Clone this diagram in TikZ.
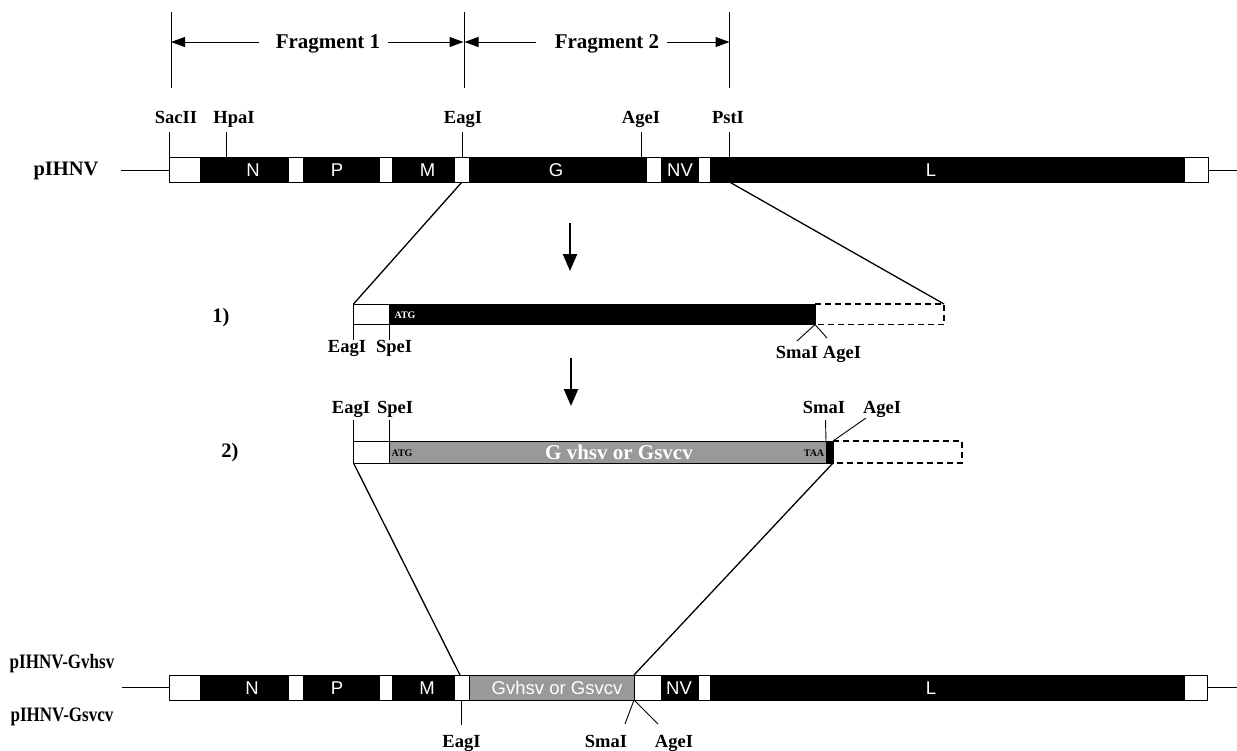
\documentclass[tikz,border=0pt]{standalone}
\usepackage{fontspec}
\setmainfont{Liberation Serif}
\newfontfamily\genefont{Liberation Sans}
\usetikzlibrary{arrows.meta}

\begin{document}
\begin{tikzpicture}[x=1pt,y=-1pt]
	\tikzstyle{site}=[anchor=base,inner sep=0pt,font=\fontsize{18.5}{20}\selectfont\bfseries]
	\tikzstyle{frag}=[anchor=base,inner sep=0pt,font=\fontsize{21}{24}\selectfont\bfseries]
	\tikzstyle{plasmid}=[anchor=base,inner sep=0pt,font=\fontsize{20.5}{24}\selectfont\bfseries]
	\tikzstyle{gene}=[anchor=base,inner sep=0pt,text=white,font=\genefont\fontsize{18.5}{20}\selectfont]
	\tikzstyle{codon}=[anchor=base,inner sep=0pt,font=\fontsize{10}{12}\selectfont\bfseries]
	\tikzstyle{tick}=[line width=0.9pt]
	\tikzstyle{link}=[line width=1.3pt]
	\tikzstyle{bar}=[line width=1pt]
	\tikzstyle{ghost}=[line width=1.2pt,dash pattern=on 6pt off 4pt]
	\tikzstyle{dim}=[line width=1pt,-{Triangle[length=14pt,width=10pt]}]
	\tikzstyle{down}=[line width=2.2pt,-{Triangle[length=17pt,width=14pt]}]
	\definecolor{insert}{gray}{0.6}

	\useasboundingbox[fill=white] (0,0) rectangle (1237,750);

	% fragments
	\foreach \x/\n in {171/f0,464/f1,729.5/f2} {
	  \coordinate (\n) at (\x,42);
	  \draw [tick] (\x,12) -- (\x,88);
	}
	\node [frag] (frag1) at (328,48) {Fragment 1};
	\node [frag] (frag2) at (607,48) {Fragment 2};
	\draw [dim] ([xshift=-17pt]frag1.west |- f0) -- (f0);
	\draw [dim] ([xshift=8pt]frag1.east |- f1) -- ([xshift=-0.5pt]f1);
	\draw [dim] ([xshift=-19pt]frag2.west |- f1) -- ([xshift=0.5pt]f1);
	\draw [dim] ([xshift=8pt]frag2.east |- f2) -- (f2);

	% pIHNV
	\node [plasmid] (pihnv) at (66,175) {pIHNV};
	\foreach \a/\b/\c in {169/199.5/white,199.5/288.5/black,288.5/303/white,303/379.5/black,379.5/392/white,392/455/black,455/469/white,469/646.5/black,646.5/660.5/white,660.5/699/black,699/710/white,710/1185/black,1185/1208/white}
	  \fill [\c] (\a,157) rectangle (\b,182);
	\draw [bar] (169,157) rectangle (1208,182);
	\draw [tick] (121,170) -- (169,170);
	\draw [tick] (1208,170) -- (1237,170);
	\foreach \x/\t in {253/N,337/P,427.5/M,556/G,680/NV,931/L}
	  \node [gene] at (\x,176.5) {\t};
	\foreach \x/\lx/\n/\t in {169/176/sac/SacII,226.5/234/hpa/HpaI,462.5/463/eag/EagI,641/641/age/AgeI,729.5/728/pst/PstI} {
	  \node [site] (t_\n) at (\lx,123) {\t};
	  \coordinate (tb_\n) at (\x,157);
	  \draw [tick] (\x,132) -- (tb_\n);
	}
	\coordinate (top_eag) at (462,182);
	\coordinate (top_pst) at (729.5,182);

	\draw [down] (570,223) -- (570,271);

	% 1)
	\node [plasmid] (one) at (221,322) {1)};
	\draw [bar,fill=white] (353.5,304) rectangle (389,324.5);
	\draw [bar,fill=black] (389,304) rectangle (815,324.5);
	\draw [ghost] (815,304) -- (944,304) -- (944,324.5) -- (815,324.5);
	\node [codon,text=white] at (405,318.5) {ATG};
	\coordinate (c1_nw) at (353.5,304);
	\coordinate (c1_ne) at (944,304);
	\coordinate (c1_sma) at (815,324.5);
	\draw [tick] (c1_nw) -- (353.5,340);
	\draw [tick] (389,324.5) -- (389,340);
	\draw [tick] (c1_sma) -- (797,341);
	\draw [tick] (c1_sma) -- (827,338);
	\node [site] at (347,352.5) {EagI};
	\node [site] at (394,352.5) {SpeI};
	\node [site] at (797,358) {SmaI};
	\node [site] at (842,358) {AgeI};

	\draw [down] (571,358) -- (571,406);

	% 2)
	\node [plasmid] (two) at (230,457) {2)};
	\draw [bar,fill=white] (353.5,441) rectangle (389,463);
	\draw [bar,fill=insert] (389,441) rectangle (826,463);
	\draw [bar,fill=black] (826,441) rectangle (833,463);
	\draw [ghost] (833,441) -- (962,441) -- (962,463) -- (833,463);
	\node [codon] at (402,456.5) {ATG};
	\node [codon] at (814,456.5) {TAA};
	\node [anchor=base,inner sep=0pt,text=white,font=\fontsize{21}{24}\selectfont\bfseries] at (619,459) {G vhsv or Gsvcv};
	\coordinate (c2_sw) at (353.5,463);
	\coordinate (c2_se) at (833,463);
	\draw [tick] (353.5,420) -- (353.5,441);
	\draw [tick] (389,420) -- (389,441);
	\draw [tick] (825.5,420) -- (826,441);
	\draw [tick] (833,441) -- (866,418);
	\node [site] at (351,413) {EagI};
	\node [site] at (395,413) {SpeI};
	\node [site] at (824,413) {SmaI};
	\node [site] at (882,413) {AgeI};

	% pIHNV-Gvhsv / pIHNV-Gsvcv
	\node [plasmid] (gvhsv) at (62,668) {\scalebox{0.83}[1]{pIHNV-Gvhsv}};
	\node [plasmid] (gsvcv) at (62,721.5) {\scalebox{0.83}[1]{pIHNV-Gsvcv}};
	\foreach \a/\b/\c in {169/199.5/white,199.5/288.5/black,288.5/303/white,303/379.5/black,379.5/392/white,392/455/black,455/469/white,469/634/insert,634/660.5/white,660.5/699/black,699/710/white,710/1185/black,1185/1207/white}
	  \fill [\c] (\a,675) rectangle (\b,700);
	\draw [bar] (169,675) rectangle (1207,700);
	\draw [bar] (469,675) -- (469,700) (634,675) -- (634,700);
	\draw [tick] (122,687.5) -- (169,687.5);
	\draw [tick] (1207,687.5) -- (1237,687.5);
	\foreach \x/\t in {252/N,337/P,427/M,557/Gvhsv or Gsvcv,679/NV,931/L}
	  \node [gene] at (\x,694.5) {\t};
	\coordinate (bot_eag) at (460,675);
	\coordinate (bot_sma) at (634,675);
	\draw [tick] (461.5,700) -- (461.5,725);
	\draw [tick] (634,700) -- (625,724);
	\draw [tick] (634,700) -- (658,724);
	\node [site] at (461.5,747) {EagI};
	\node [site] at (606,747) {SmaI};
	\node [site] at (674,747) {AgeI};

	\foreach \source/\dest in
	{top_eag/c1_nw,top_pst/c1_ne,c2_sw/bot_eag,c2_se/bot_sma}
	  \draw [link] (\source) to (\dest);
\end{tikzpicture}
\end{document}
